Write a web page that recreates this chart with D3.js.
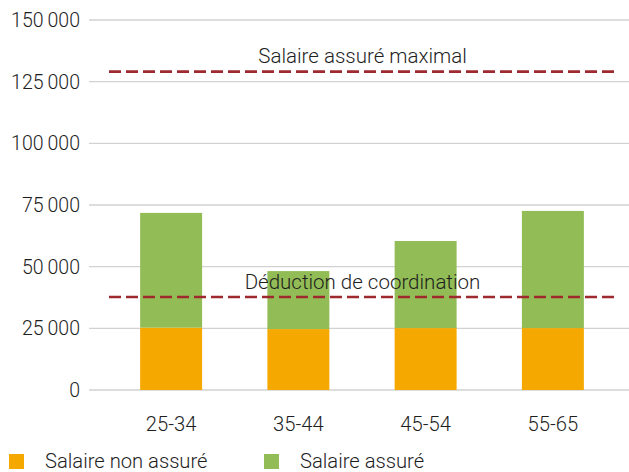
<!DOCTYPE html>
<html>
<head>
<meta charset="utf-8">
<script src="https://cdn.jsdelivr.net/npm/d3@7"></script>
<style>
  body { margin: 0; background: #fff; }
  text { font-family: Roboto, "Noto Sans", sans-serif; font-weight: 300; fill: #1e1e1e; }
</style>
</head>
<body>
<svg id="chart" width="629" height="472"></svg>
<script>
'use strict'

// data
var categories = ["25-34", "35-44", "45-54", "55-65"]
var nonAssure  = [25300, 24700, 25100, 25100]
var assure     = [46500, 23500, 35300, 47500]
var yTicks     = [0, 25000, 50000, 75000, 100000, 125000, 150000]
var seriesNames  = ["Salaire non assuré", "Salaire assuré"]
var seriesColors = ["#f5a800", "#92bc55"]
var refValues  = [129060, 37700]
var refLabels  = ["Salaire assuré maximal", "Déduction de coordination"]

var svg = d3.select("#chart")

var x = d3.scaleBand()
    .domain(categories)
    .range([107.5, 616.5])
    .paddingInner(0.513)
    .paddingOuter(0.2565)

var y = d3.scaleLinear()
    .domain([0, 150000])
    .range([390, 20])

var fmt = d => d3.format(",")(d).replace(/,/g, "\u2009")

// gridlines + y labels
var grid = svg.append("g")
grid.selectAll("line")
  .data(yTicks)
  .enter()
    .append("line")
    .attr("x1", 89)
    .attr("x2", 629)
    .attr("y1", d => y(d))
    .attr("y2", d => y(d))
    .attr("stroke", "#d2d2d2")
    .attr("stroke-width", 1.3)

grid.selectAll("text")
  .data(yTicks)
  .enter()
    .append("text")
    .attr("x", 80)
    .attr("y", d => y(d))
    .attr("dy", "0.36em")
    .attr("text-anchor", "end")
    .style("font-size", "19.5px")
    .text(fmt)

// stacked bars
var rows = categories.map((c, i) => ({cat: c, nonAssure: nonAssure[i], assure: assure[i]}))
var stack = d3.stack().keys(["nonAssure", "assure"])(rows)

svg.append("g")
  .selectAll("g")
  .data(stack)
  .enter()
    .append("g")
    .attr("fill", (d, i) => seriesColors[i])
    .selectAll("rect")
    .data(d => d)
    .enter()
      .append("rect")
      .attr("x", d => x(d.data.cat))
      .attr("y", d => y(d[1]))
      .attr("width", x.bandwidth())
      .attr("height", d => y(d[0]) - y(d[1]))

// x labels
svg.append("g")
  .selectAll("text")
  .data(categories)
  .enter()
    .append("text")
    .attr("x", d => x(d) + x.bandwidth() / 2)
    .attr("y", 431)
    .attr("text-anchor", "middle")
    .style("font-size", "20.2px")
    .text(d => d)

// reference lines
var refs = svg.append("g")
refs.selectAll("line")
  .data(refValues)
  .enter()
    .append("line")
    .attr("x1", 109)
    .attr("x2", 616)
    .attr("y1", d => y(d))
    .attr("y2", d => y(d))
    .attr("stroke", "#9e2a30")
    .attr("stroke-width", 2.6)
    .attr("stroke-dasharray", "12,5")

refs.selectAll("text")
  .data(refValues)
  .enter()
    .append("text")
    .attr("x", 362.5)
    .attr("y", d => y(d) - 8.5)
    .attr("text-anchor", "middle")
    .style("font-size", "20.5px")
    .text((d, i) => refLabels[i])

// legend
var legendX = [9, 264]
var legend = svg.append("g")
  .selectAll("g")
  .data(seriesNames)
  .enter()
    .append("g")
    .attr("transform", (d, i) => "translate(" + legendX[i] + ",454)")

legend.append("rect")
  .attr("width", 15)
  .attr("height", 15)
  .attr("fill", (d, i) => seriesColors[i])

legend.append("text")
  .attr("x", 36)
  .attr("y", 13.5)
  .style("font-size", "20.2px")
  .text(d => d)
</script>
</body>
</html>
